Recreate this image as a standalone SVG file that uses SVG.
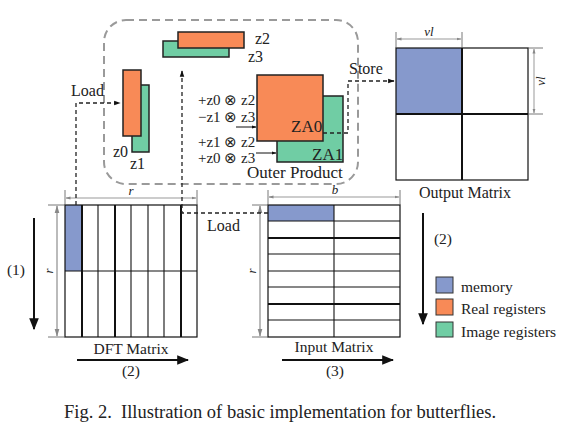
<svg xmlns="http://www.w3.org/2000/svg" width="570" height="435" viewBox="0 0 570 435">
<defs>
<style>
text{font-family:"Liberation Serif","Times New Roman",serif;fill:#222;}
.t16{font-size:16px;}
.op{font-size:15px;}
.t15{font-size:15.5px;}
.t17{font-size:17px;}
.it{font-style:italic;font-size:13px;}
.org{fill:#F88A57;stroke:#222;stroke-width:1.5;}
.grn{fill:#70CDA4;stroke:#222;stroke-width:1.5;}
.blu{fill:#8699CC;stroke:none;}
.grid{fill:none;stroke:#111;stroke-width:1.2;}
.thk{stroke:#111;stroke-width:2;}
.thn{stroke:#111;stroke-width:1.1;}
.dim{stroke:#999;stroke-width:1;fill:none;}
.dimg{stroke:#aaa;stroke-width:1.6;fill:none;}
.ext{stroke:#555;stroke-width:0.8;}
.dash{fill:none;stroke:#222;stroke-width:1.3;stroke-dasharray:4 3;}
.big{stroke:#111;stroke-width:2;fill:none;}
.sm{stroke:#111;stroke-width:1;fill:none;}
</style>
<marker id="ah" viewBox="0 0 10 10" refX="9" refY="5" markerWidth="6" markerHeight="6" orient="auto"><path d="M0,1 L10,5 L0,9 Z" fill="#111"/></marker>
<marker id="ahs" viewBox="0 0 10 10" refX="9" refY="5" markerWidth="5" markerHeight="5" orient="auto"><path d="M0,1.5 L10,5 L0,8.5 Z" fill="#111"/></marker>
<marker id="ahd" viewBox="0 0 10 10" refX="9" refY="5" markerWidth="5" markerHeight="5" orient="auto-start-reverse"><path d="M0,2 L10,5 L0,8 Z" fill="#888"/></marker>
</defs>

<!-- register file boundary -->
<rect id="regfile" x="104" y="20" width="254" height="164" rx="22" ry="22" fill="none" stroke="#9a9a9a" stroke-width="2" stroke-dasharray="8 5"/>

<g id="z2z3">
<rect class="grn" x="163" y="41" width="66" height="16"/>
<rect class="org" x="178" y="32" width="66" height="16"/>
<text class="t16" x="255" y="44">z2</text>
<text class="t16" x="248" y="62">z3</text>
</g>

<g id="z0z1">
<rect class="grn" x="132" y="85" width="17" height="67"/>
<rect class="org" x="123" y="70" width="18" height="66"/>
<text class="t16" x="113" y="157">z0</text>
<text class="t16" x="130" y="169">z1</text>
</g>

<g id="za">
<rect class="grn" x="277" y="96" width="66" height="66"/>
<rect class="org" x="257" y="75" width="66" height="66"/>
<text class="t17" x="291" y="132">ZA0</text>
<text class="t17" x="312" y="160">ZA1</text>
<text class="op" x="198" y="105">+z0 ⊗ z2</text>
<text class="op" x="198" y="122">−z1 ⊗ z3</text>
<text class="op" x="198" y="147">+z1 ⊗ z2</text>
<text class="op" x="198" y="163">+z0 ⊗ z3</text>
<text class="t17" x="247" y="178">Outer Product</text>
</g>

<g id="output-matrix">
<rect class="blu" x="396" y="48" width="66" height="66"/>
<rect class="grid" x="396" y="48" width="132" height="132"/>
<line class="thk" x1="462" y1="48" x2="462" y2="180"/>
<line class="thk" x1="396" y1="114" x2="528" y2="114"/>
<line class="ext" x1="396" y1="32" x2="396" y2="48"/>
<line class="ext" x1="462" y1="32" x2="462" y2="48"/>
<line class="dim" x1="397" y1="39" x2="461" y2="39" marker-start="url(#ahd)" marker-end="url(#ahd)"/>
<text class="it" x="429" y="36" text-anchor="middle">vl</text>
<line class="ext" x1="528" y1="48" x2="543" y2="48"/>
<line class="ext" x1="528" y1="114" x2="543" y2="114"/>
<line class="dim" x1="534" y1="49" x2="534" y2="113" marker-start="url(#ahd)" marker-end="url(#ahd)"/>
<text class="it" x="0" y="0" text-anchor="middle" transform="translate(545,81) rotate(-90)">vl</text>
<text x="465" y="198" text-anchor="middle" style="font-size:16px">Output Matrix</text>
</g>

<g id="dft-matrix">
<rect class="blu" x="65" y="205" width="17" height="66"/>
<rect class="grid" x="65" y="205" width="132" height="132"/>
<line class="thn" x1="65" y1="271" x2="197" y2="271"/>
<line class="thk" x1="82" y1="205" x2="82" y2="337"/>
<line class="thn" x1="98" y1="205" x2="98" y2="337"/>
<line class="thk" x1="115" y1="205" x2="115" y2="337"/>
<line class="thn" x1="131" y1="205" x2="131" y2="337"/>
<line class="thn" x1="148" y1="205" x2="148" y2="337"/>
<line class="thn" x1="164" y1="205" x2="164" y2="337"/>
<line class="thk" x1="181" y1="205" x2="181" y2="337"/>
<line class="ext" x1="65" y1="190" x2="65" y2="205"/>
<line class="ext" x1="197" y1="190" x2="197" y2="205"/>
<line class="dim" x1="66" y1="198" x2="196" y2="198" marker-start="url(#ahd)" marker-end="url(#ahd)"/>
<text class="it" x="131" y="195" text-anchor="middle">r</text>
<line class="ext" x1="48" y1="205" x2="65" y2="205"/>
<line class="ext" x1="48" y1="337" x2="65" y2="337"/>
<line class="dimg" x1="57" y1="206" x2="57" y2="336" marker-start="url(#ahd)" marker-end="url(#ahd)"/>
<text class="it" x="0" y="0" text-anchor="middle" transform="translate(53,271) rotate(-90)">r</text>
<text class="t15" x="131" y="354" text-anchor="middle">DFT Matrix</text>
</g>

<g id="input-matrix">
<rect class="blu" x="268" y="205" width="66" height="16"/>
<rect class="grid" x="268" y="205" width="132" height="132"/>
<line class="thn" x1="334" y1="205" x2="334" y2="337"/>
<line class="thn" x1="268" y1="221" x2="400" y2="221"/>
<line class="thk" x1="268" y1="238" x2="400" y2="238"/>
<line class="thn" x1="268" y1="254" x2="400" y2="254"/>
<line class="thn" x1="268" y1="271" x2="400" y2="271"/>
<line class="thn" x1="268" y1="287" x2="400" y2="287"/>
<line class="thk" x1="268" y1="304" x2="400" y2="304"/>
<line class="thn" x1="268" y1="320" x2="400" y2="320"/>
<line class="ext" x1="268" y1="190" x2="268" y2="205"/>
<line class="ext" x1="400" y1="190" x2="400" y2="205"/>
<line class="dim" x1="269" y1="197" x2="399" y2="197" marker-start="url(#ahd)" marker-end="url(#ahd)"/>
<text class="it" x="335" y="194" text-anchor="middle">b</text>
<line class="ext" x1="252" y1="205" x2="268" y2="205"/>
<line class="ext" x1="252" y1="337" x2="268" y2="337"/>
<line class="dimg" x1="260" y1="206" x2="260" y2="336" marker-start="url(#ahd)" marker-end="url(#ahd)"/>
<text class="it" x="0" y="0" text-anchor="middle" transform="translate(256,271) rotate(-90)">r</text>
<text class="t15" x="334" y="352" text-anchor="middle">Input Matrix</text>
</g>

<g id="legend">
<rect x="436" y="277" width="17" height="16" fill="#8699CC" stroke="#333" stroke-width="1"/>
<rect x="436" y="299" width="17" height="16" fill="#F88A57" stroke="#333" stroke-width="1"/>
<rect x="436" y="322" width="17" height="15" fill="#70CDA4" stroke="#333" stroke-width="1"/>
<text class="t15" x="461" y="292">memory</text>
<text class="t15" x="461" y="314">Real registers</text>
<text class="t15" x="461" y="337">Image registers</text>
</g>

<g id="connectors">
<path class="dash" d="M76,205 L76,103 L120,103" marker-end="url(#ahs)"/>
<path class="dash" d="M268,213 L182,213 L182,71" marker-end="url(#ahs)"/>
<path class="dash" d="M323,133 L348,133 L348,81 L394,81" marker-end="url(#ahs)"/>
<line class="sm" x1="236" y1="127" x2="256" y2="127" marker-end="url(#ahs)"/>
<line class="sm" x1="256" y1="153" x2="276" y2="153" marker-end="url(#ahs)"/>
<line class="big" x1="34" y1="218" x2="34" y2="329" marker-end="url(#ah)"/>
<line class="big" x1="77" y1="360" x2="188" y2="360" marker-end="url(#ah)"/>
<line class="big" x1="282" y1="360" x2="393" y2="360" marker-end="url(#ah)"/>
<line class="big" x1="423" y1="213" x2="423" y2="324" marker-end="url(#ah)"/>
</g>

<g id="labels">
<text class="t16" x="71" y="96">Load</text>
<text class="t16" x="207" y="231">Load</text>
<text class="t16" x="349" y="74">Store</text>
<text class="t15" x="16" y="275" text-anchor="middle">(1)</text>
<text class="t15" x="131" y="376" text-anchor="middle">(2)</text>
<text class="t15" x="335" y="376" text-anchor="middle">(3)</text>
<text class="t15" x="443" y="244" text-anchor="middle">(2)</text>
<text x="64" y="418" xml:space="preserve" style="font-size:18.5px">Fig. 2.  Illustration of basic implementation for butterflies.</text>
</g>
</svg>
